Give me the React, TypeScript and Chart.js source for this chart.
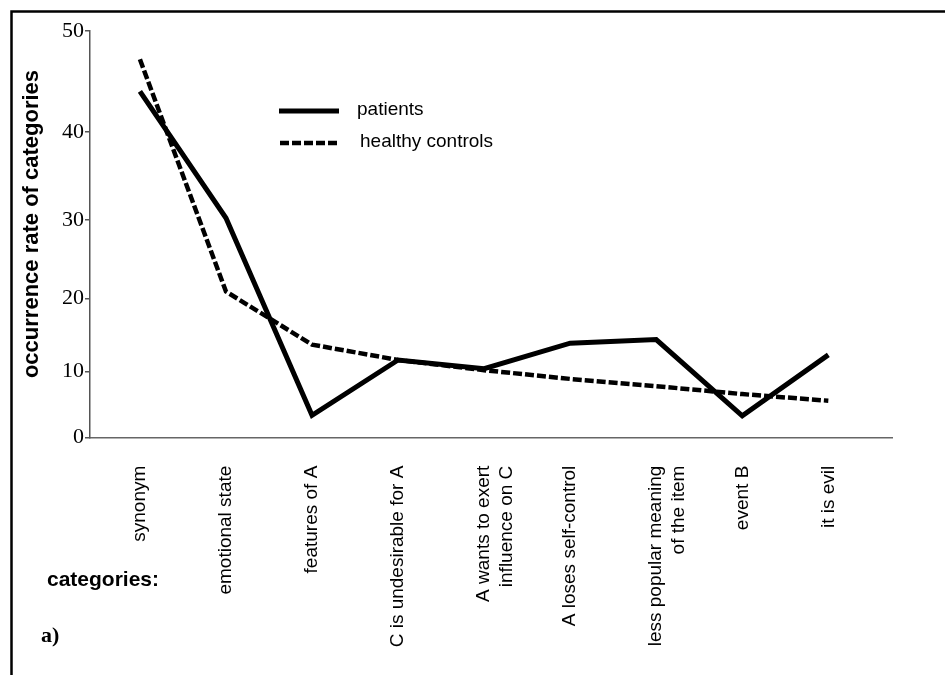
import React, { useEffect, useRef } from 'react';
import { Chart, registerables, LinearScale } from 'chart.js';

// ---------- data ----------
const CATEGORIES: (string | string[])[] = [
  'synonym',
  'emotional state',
  'features of A',
  'C is undesirable for A',
  ['A wants to exert', 'influence on C'],
  'A loses self-control',
  ['less popular meaning', 'of the item'],
  'event B',
  'it is evil',
];
const PATIENTS = [44.0, 30.2, 3.4, 11.6, 10.4, 13.9, 14.4, 3.3, 12.3];
const HEALTHY = [47.2, 20.9, 13.7, 11.6, 10.2, 8.9, 7.8, 6.6, 5.6];
const Y_TICKS = [0, 10, 20, 30, 40, 50];
const SERIES_NAMES = ['patients', 'healthy controls'];
const Y_TITLE = 'occurrence rate of categories';
const X_NOTE = 'categories:';
const PANEL_LABEL = 'a)';

// The source figure's value axis is not evenly spaced: fraction of the
// plot height reached at each successive tick (0,10,...,50).
const Y_STOPS = [0, 0.1624, 0.342, 0.5357, 0.7522, 1];

class WarpedScale extends LinearScale {
  static id = 'warped';
  static defaults = LinearScale.defaults;
  getPixelForValue(value: any) {
    if (value === null || value === undefined || isNaN(value)) return NaN;
    const n = Y_STOPS.length - 1;
    const t = ((value - (this as any).min) / ((this as any).max - (this as any).min)) * n;
    const i = Math.max(0, Math.min(n - 1, Math.floor(t)));
    const dec = Y_STOPS[i] + (t - i) * (Y_STOPS[i + 1] - Y_STOPS[i]);
    return this.getPixelForDecimal(dec);
  }
  getValueForPixel(pixel: number) {
    const dec = this.getDecimalForPixel(pixel);
    const n = Y_STOPS.length - 1;
    let i = 0;
    while (i < n - 1 && dec > Y_STOPS[i + 1]) i++;
    const t = i + (dec - Y_STOPS[i]) / (Y_STOPS[i + 1] - Y_STOPS[i]);
    return (this as any).min + (t / n) * ((this as any).max - (this as any).min);
  }
}

Chart.register(...registerables, WarpedScale as any);

const decorPlugin = {
  id: 'decor',
  afterDraw(chart: any) {
    const ctx = chart.ctx as CanvasRenderingContext2D;
    ctx.save();
    // frame
    ctx.strokeStyle = '#000';
    ctx.lineWidth = 2.5;
    ctx.setLineDash([]);
    ctx.beginPath();
    ctx.moveTo(11.5, 675);
    ctx.lineTo(11.5, 11.5);
    ctx.lineTo(945, 11.5);
    ctx.stroke();

    // y-axis title
    ctx.save();
    ctx.translate(32, 224);
    ctx.rotate(-Math.PI / 2);
    ctx.fillStyle = '#000';
    ctx.font = 'bold 22px "Liberation Sans", Arial, sans-serif';
    ctx.textAlign = 'center';
    ctx.textBaseline = 'middle';
    ctx.fillText(Y_TITLE, 0, 0);
    ctx.restore();

    // legend
    const legendRows = [
      { y: 111, x0: 279, x1: 339, tx: 357 },
      { y: 143, x0: 280, x1: 340, tx: 360 },
    ];
    chart.data.datasets.forEach((ds: any, i: number) => {
      const r = legendRows[i];
      ctx.strokeStyle = ds.borderColor;
      ctx.lineWidth = ds.borderWidth;
      ctx.lineCap = 'butt';
      ctx.setLineDash(ds.borderDash || []);
      ctx.beginPath();
      ctx.moveTo(r.x0, r.y);
      ctx.lineTo(r.x1, r.y);
      ctx.stroke();
      ctx.setLineDash([]);
      ctx.fillStyle = '#000';
      ctx.font = '19px "Liberation Sans", Arial, sans-serif';
      ctx.textBaseline = 'middle';
      ctx.textAlign = 'left';
      ctx.fillText(ds.label, r.tx, r.y - 1);
    });

    // notes
    ctx.fillStyle = '#000';
    ctx.font = 'bold 21px "Liberation Sans", Arial, sans-serif';
    ctx.textBaseline = 'middle';
    ctx.textAlign = 'left';
    ctx.fillText(X_NOTE, 47, 580);
    ctx.font = 'bold 22px "Liberation Serif", "Times New Roman", serif';
    ctx.fillText(PANEL_LABEL, 41, 636);
    ctx.restore();
  },
};

export default function App() {
  const ref = useRef<HTMLCanvasElement | null>(null);

  useEffect(() => {
    document.body.style.margin = '0';
    const canvas = ref.current;
    if (!canvas) return;
    const xIdx = CATEGORIES.map((_, i) => i);
    const chart = new Chart(canvas, {
      type: 'line',
      data: {
        datasets: [
          {
            label: SERIES_NAMES[0],
            data: PATIENTS.map((y, i) => ({ x: i, y })),
            borderColor: '#000',
            borderWidth: 5,
            pointRadius: 0,
            tension: 0,
            fill: false,
          },
          {
            label: SERIES_NAMES[1],
            data: HEALTHY.map((y, i) => ({ x: i, y })),
            borderColor: '#000',
            borderWidth: 4.5,
            borderDash: [9, 3],
            borderCapStyle: 'butt',
            pointRadius: 0,
            tension: 0,
            fill: false,
          },
        ],
      },
      options: {
        responsive: false,
        animation: false,
        layout: { padding: { top: 31, right: 53, left: 0, bottom: 0 } },
        plugins: {
          legend: { display: false },
          tooltip: { enabled: false },
        },
        scales: {
          x: {
            type: 'linear',
            min: -0.58,
            max: 8.74,
            afterBuildTicks: (ax: any) => {
              ax.ticks = xIdx.map((v) => ({ value: v }));
            },
            afterFit: (s: any) => {
              s.height = 237.3;
            },
            grid: { display: false, drawTicks: false },
            border: { display: true, color: '#666', width: 1.5 },
            ticks: {
              autoSkip: false,
              maxRotation: 90,
              minRotation: 90,
              padding: 28,
              color: '#000',
              font: { family: '"Liberation Sans", Arial, sans-serif', size: 19 },
              callback: (v: any) => CATEGORIES[Math.round(v)] as any,
            },
          },
          y: {
            type: 'warped' as any,
            min: 0,
            max: 50,
            afterBuildTicks: (ax: any) => {
              ax.ticks = Y_TICKS.map((v) => ({ value: v }));
            },
            afterFit: (s: any) => {
              s.width = 90;
            },
            grid: {
              drawOnChartArea: false,
              drawTicks: true,
              tickLength: 5,
              color: '#555',
              lineWidth: 1.5,
            },
            border: { display: true, color: '#555', width: 1.5 },
            ticks: {
              padding: 1,
              color: '#000',
              font: { family: '"Liberation Serif", "Times New Roman", serif', size: 22 },
            },
            title: { display: false },
          } as any,
        },
      },
      plugins: [decorPlugin],
    } as any);
    return () => chart.destroy();
  }, []);

  return (
    <div style={{ width: 945, height: 675, background: '#fff' }}>
      <canvas ref={ref} width={945} height={675} />
    </div>
  );
}
